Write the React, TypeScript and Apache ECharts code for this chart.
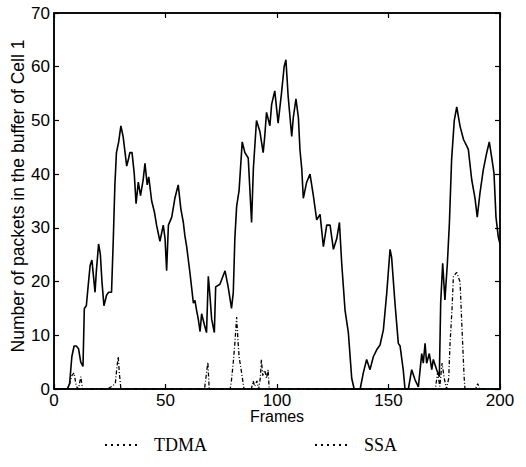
import React, { useEffect, useRef } from "react";
import * as echarts from "echarts";

const xTicks = [0, 50, 100, 150, 200];
const yTicks = [0, 10, 20, 30, 40, 50, 60, 70];
const seriesNames = ["TDMA", "SSA"];
const yAxisTitle = "Number of packets in the buffer of Cell 1";

const tdmaFrames = [0, 6, 7, 8, 9, 10, 11, 12, 13, 13.6, 14.5, 15.5, 16.2, 17, 17.7, 18.4, 19, 20, 20.8, 21.5, 22.4, 23.6, 24.5, 25.8, 26.6, 27.3, 28, 29, 30, 31, 32.6, 33.5, 34, 35, 36, 36.8, 37.8, 38.8, 40, 40.8, 41.8, 42.5, 43.8, 45, 46, 47.5, 49, 49.8, 50.5, 51.3, 52.8, 54.2, 55.7, 56.9, 58, 58.7, 59.5, 61, 62.5, 63.2, 64, 64.7, 65.5, 66.2, 67.4, 68.4, 69.2, 69.9, 70.7, 71.9, 72.5, 74.4, 76.7, 78.1, 79.6, 80.4, 81.1, 81.9, 83, 84.4, 85.6, 87.1, 88.6, 89.4, 90.8, 92.3, 93.8, 94.5, 95.3, 96.8, 97.6, 99, 100.5, 102, 103.2, 104, 105, 106.6, 107.3, 108.5, 109.6, 110.3, 111.1, 111.8, 113.3, 114.8, 116.3, 117.8, 119.3, 120.8, 122.3, 123.8, 125.3, 126.8, 128, 129, 130.5, 132, 133.5, 134.6, 137.3, 138.7, 140.2, 141.7, 143.2, 144.7, 146.2, 147.7, 149.2, 150.7, 151.4, 152.9, 154.4, 155.2, 156.6, 157.4, 158.9, 160.4, 161.9, 163.4, 164.9, 165.6, 166.4, 167.1, 168.3, 169.4, 170.1, 171.6, 172.8, 173.4, 174.3, 175.3, 176.4, 177.3, 178.3, 179.5, 180.6, 182.1, 183.6, 185.8, 187.3, 188.8, 189.8, 191, 192.5, 194, 195.2, 196.2, 197.3, 198.2, 199.2, 200];
const tdmaValues = [0, 0, 1, 6, 8, 8, 7.5, 5, 4.2, 15, 15.5, 20, 23, 24, 21, 18, 22, 27, 25, 20, 15.5, 17.5, 18, 18, 28, 38, 44, 46, 49, 47, 41.5, 43, 44, 44, 40, 34.5, 38.5, 36, 39, 42, 38, 39.5, 35, 33, 30.5, 27.5, 30.5, 28, 22, 30.5, 32, 35.5, 38, 33.5, 31, 28.5, 26.5, 21.5, 16, 16.5, 14.5, 13, 10.7, 14, 12, 10.5, 21, 17.5, 13, 10.5, 19, 19.5, 22, 19, 15, 18, 28, 34, 37, 46, 44, 43, 31, 41, 50, 48, 44, 47, 51.5, 49, 53, 55.5, 49.5, 55, 60, 61.3, 54.5, 47, 50.5, 54, 50.5, 44.5, 41, 35.5, 38.5, 40, 36, 31.5, 32.5, 26.5, 30.5, 30.5, 26, 28, 31, 23.5, 14.7, 10.5, 2, 0, 0, 3, 5.5, 3.6, 6, 7.3, 8.2, 11, 17.8, 26, 24.5, 16, 8.5, 8, 3.6, 0, 0, 3.6, 1.7, 0.4, 6.6, 4.8, 8.5, 4.8, 6.6, 3.6, 5.5, 3.6, 2.3, 16, 23.4, 16.6, 23.4, 30.8, 42.7, 50, 52.5, 48.9, 46.5, 44.6, 39, 35.5, 32, 36.4, 40.8, 43.9, 46, 43.3, 40.2, 32, 28.4, 27];

const ssaFrames = [0, 6, 7, 8, 9, 10, 11, 12, 12.8, 24, 26, 27.5, 28.2, 28.8, 29.3, 30, 67.5, 68.4, 69, 69.6, 79, 79.6, 80.4, 81.1, 81.9, 82.5, 83, 84.4, 85.2, 88.5, 89.3, 90, 91, 91.8, 92.5, 93, 93.6, 94.5, 95.3, 96, 96.5, 171, 172, 173, 174, 175, 176, 177, 177.6, 178.5, 179.1, 180.6, 182.1, 182.9, 183.9, 184.3, 189, 190, 191, 200];
const ssaValues = [0, 0, 1, 2.5, 3, 0.5, 0, 2.3, 0, 0, 0.5, 1, 4, 6, 3, 0, 0, 3, 5, 0, 0, 1.7, 5, 8.5, 13.4, 9, 6, 2.3, 0, 0, 1.5, 0.5, 1.5, 0, 2, 5.5, 2.5, 3.5, 2, 3.6, 0, 0, 3, 0.5, 4.8, 2, 0, 2, 8.5, 15, 21, 21.7, 19.9, 11.8, 2.3, 0, 0, 1, 0, 0];

const zip = (xs: number[], ys: number[]) => xs.map((x, i) => [x, ys[i]]);

const dotsIcon =
  "path://M0,0h2v2h-2z M6,0h2v2h-2z M12,0h2v2h-2z M18,0h2v2h-2z M24,0h2v2h-2z M30,0h2v2h-2z";

export default function App() {
  const ref = useRef<HTMLDivElement>(null);
  useEffect(() => {
    if (!ref.current) return;
    const chart = echarts.init(ref.current, null, { renderer: "svg" });
    const sans = "Liberation Sans, Arial, sans-serif";
    const mkLine = () => ({ show: true, onZero: false, lineStyle: { color: "#000", width: 1.5 } });
    const mkTick = () => ({ show: true, inside: true, length: 5, lineStyle: { color: "#000", width: 1.2 } });
    chart.setOption({
      animation: false,
      backgroundColor: "#fff",
      grid: { left: 54, top: 13, right: 26, bottom: 78, containLabel: false, show: true, borderColor: "#000", borderWidth: 1.5, backgroundColor: "transparent" },
      legend: {
        data: seriesNames,
        bottom: 8,
        left: 100,
        icon: dotsIcon,
        itemWidth: 32,
        itemHeight: 2,
        itemGap: 108,
        itemStyle: { color: "#000" },
        textStyle: { fontFamily: "Liberation Serif, Times New Roman, serif", fontSize: 18, color: "#000", padding: [0, 0, 0, 12] },
      },
      graphic: [
        {
          type: "text",
          x: 18,
          y: 196,
          rotation: Math.PI / 2,
          style: {
            text: yAxisTitle,
            fontFamily: sans,
            fontSize: 17.5,
            fill: "#000",
            align: "center",
            verticalAlign: "middle",
          },
        },
      ],
      xAxis: [
        {
          type: "value",
          min: 0,
          max: 200,
          interval: 50,
          name: "Frames",
          nameLocation: "middle",
          nameGap: 20,
          nameMoveOverlap: false,
          nameTextStyle: { fontFamily: sans, fontSize: 16, lineHeight: 15, color: "#000", verticalAlign: "top" },
          axisLine: mkLine(),
          axisTick: mkTick(),
          axisLabel: { fontFamily: sans, fontSize: 17, lineHeight: 14, color: "#000", margin: 4, formatter: (v: number) => (xTicks.includes(v) ? String(v) : "") },
          splitLine: { show: false },
        },
        {
          type: "value",
          position: "top",
          min: 0,
          max: 200,
          interval: 50,
          axisLine: mkLine(),
          axisTick: mkTick(),
          axisLabel: { show: false },
          splitLine: { show: false },
        },
      ],
      yAxis: [
        {
          type: "value",
          min: 0,
          max: 70,
          interval: 10,
          axisLine: mkLine(),
          axisTick: mkTick(),
          axisLabel: { fontFamily: sans, fontSize: 17, color: "#000", margin: 4, formatter: (v: number) => (yTicks.includes(v) ? String(v) : "") },
          splitLine: { show: false },
        },
        {
          type: "value",
          position: "right",
          min: 0,
          max: 70,
          interval: 10,
          axisLine: mkLine(),
          axisTick: mkTick(),
          axisLabel: { show: false },
          splitLine: { show: false },
        },
      ],
      series: [
        {
          name: seriesNames[0],
          type: "line",
          data: zip(tdmaFrames, tdmaValues),
          showSymbol: false,
          lineStyle: { color: "#000", width: 1.6 },
          itemStyle: { color: "#000" },
          z: 3,
        },
        {
          name: seriesNames[1],
          type: "line",
          data: zip(ssaFrames, ssaValues),
          showSymbol: false,
          lineStyle: { color: "#000", width: 1.3, type: [4, 2, 1, 2] },
          itemStyle: { color: "#000" },
          z: 2,
        },
      ],
    });
    return () => chart.dispose();
  }, []);
  return <div ref={ref} style={{ position: "fixed", left: 0, top: 0, width: 526, height: 467 }} />;
}
